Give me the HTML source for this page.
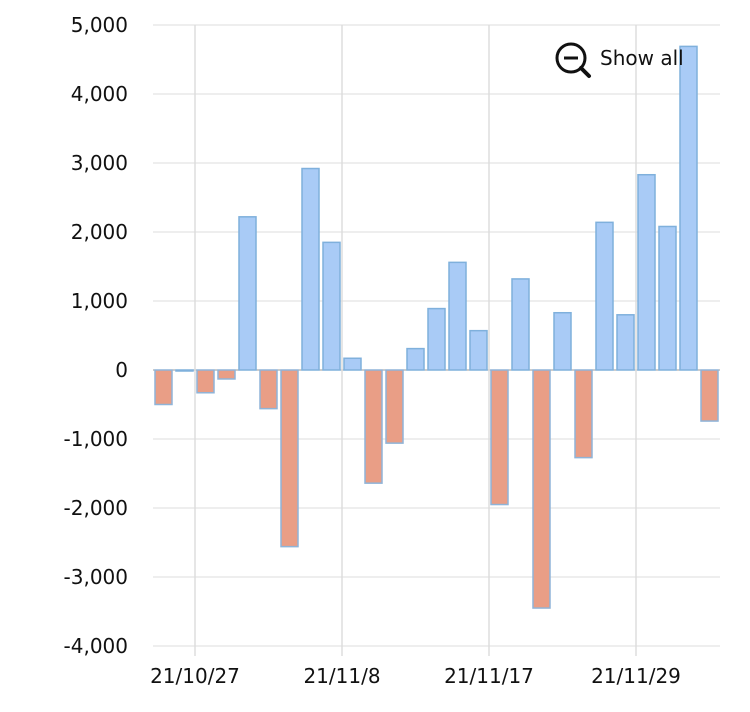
<!DOCTYPE html>
<html><head><meta charset="utf-8"><style>
body{margin:0;background:#fff;font-family:"Liberation Sans","DejaVu Sans",sans-serif;}
svg text{font-family:"DejaVu Sans","Liberation Sans",sans-serif;font-size:20px;fill:#111;}
</style></head><body>
<svg id="chart" width="750" height="707">
<rect x="0" y="0" width="750" height="707" fill="#fff"/>
<g id="grid"></g><g id="bars"></g><g id="axes"></g>
<g style="cursor:pointer">
<circle cx="571" cy="58" r="14" fill="none" stroke="#111" stroke-width="3"/>
<line x1="581" y1="68" x2="589" y2="76" stroke="#111" stroke-width="4" stroke-linecap="round"/>
<line x1="564" y1="58" x2="578" y2="58" stroke="#111" stroke-width="3"/>
<text x="600" y="65">Show all</text>
</g>
</svg>
<script>
const values=[-500,0,-330,-130,2220,-560,-2560,2920,1850,170,-1640,-1060,310,890,1560,570,-1950,1320,-3450,830,-1270,2140,800,2830,2080,4690,-740];
const yTicks=[5000,4000,3000,2000,1000,0,-1000,-2000,-3000,-4000];
const xLabels=["21/10/27","21/11/8","21/11/17","21/11/29"];
const xLabelIdx=[2,9,16,23];
const NS="http://www.w3.org/2000/svg";
const pL=153,pR=720,pT=25,pB=646,yMax=5000,yMin=-4000;
const step=(pR-pL)/values.length,bw=17;
function yS(v){return pT+(yMax-v)/(yMax-yMin)*(pB-pT);}
function xS(i){return pL+i*step;}
function mk(t,a,p){const e=document.createElementNS(NS,t);for(const k in a)e.setAttribute(k,a[k]);document.getElementById(p).appendChild(e);return e;}
yTicks.forEach(t=>{
 const l=mk('line',{x1:pL,x2:pR,y1:yS(t),y2:yS(t),stroke:t===0?'#999':'#ddd','stroke-width':1},'grid');
 
 
 const tx=mk('text',{x:128,y:yS(t)+7,'text-anchor':'end'},'axes');tx.textContent=t.toLocaleString('en-US');
 
 
});
xLabelIdx.forEach((idx,k)=>{
 const l=mk('line',{x1:xS(idx),x2:xS(idx),y1:pT,y2:pB+10,stroke:'#ddd','stroke-width':1.5},'grid');
 
 
 const tx=mk('text',{x:xS(idx),y:683,'text-anchor':'middle'},'axes');tx.textContent=xLabels[k];
 
 
});
values.forEach((v,i)=>{
 const y0=yS(0),yv=yS(v);
 const pos=v>=0;
 const r=mk('rect',{x:xS(i)+(step-bw)/2,y:Math.min(y0,yv),width:bw,height:Math.max(Math.abs(yv-y0),1),
  fill:pos?'#a9cbf6':'#e99e86',stroke:pos?'#7fb0dc':'#8fb4d8','stroke-width':1.5},'bars');
 
 
});
</script>
</body></html>
